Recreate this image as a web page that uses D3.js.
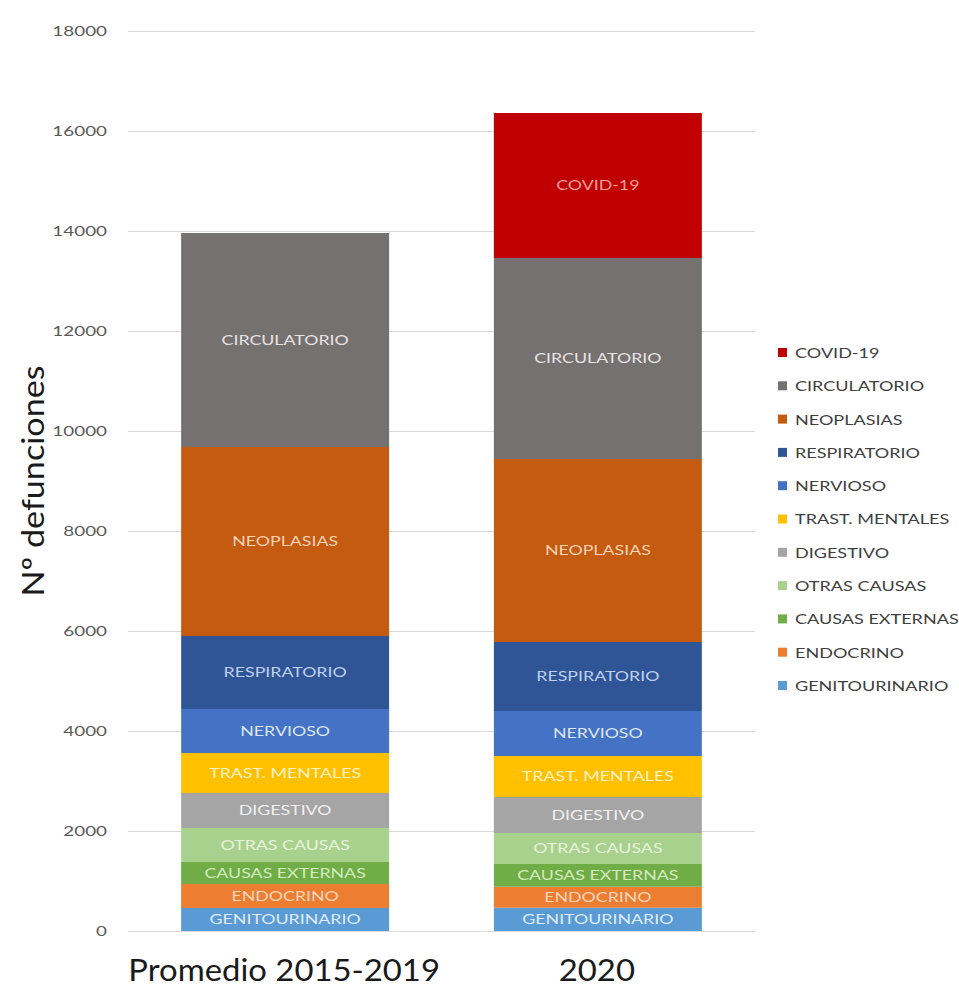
<!DOCTYPE html>
<html>
<head>
<meta charset="utf-8">
<script src="https://cdn.jsdelivr.net/npm/d3@7"></script>
<style>
  html, body { margin: 0; padding: 0; background: #ffffff; }
  svg { display: block; }
</style>
</head>
<body>
<svg id="chart" width="959" height="992"></svg>
<script>
// Categories on the x axis
const categories = ["Promedio 2015-2019", "2020"];

// Causes of death, stacked from the bottom of each bar upwards
const causes = [
  "GENITOURINARIO", "ENDOCRINO", "CAUSAS EXTERNAS", "OTRAS CAUSAS",
  "DIGESTIVO", "TRAST. MENTALES", "NERVIOSO", "RESPIRATORIO",
  "NEOPLASIAS", "CIRCULATORIO", "COVID-19"
];

// Deaths per cause (same order as causes)
const promedio2015_2019 = [460, 480, 440, 680, 700, 800, 880, 1460, 3780, 4280, 0];
const year2020          = [465, 420, 455, 620, 720, 820, 900, 1380, 3660, 4020, 2900];

// Y axis ticks
const yTicks = [0, 2000, 4000, 6000, 8000, 10000, 12000, 14000, 16000, 18000];

// Segment fills and label tints
const fillColors = {
  "COVID-19": "#C00000",
  "CIRCULATORIO": "#767171",
  "NEOPLASIAS": "#C55A11",
  "RESPIRATORIO": "#2F5597",
  "NERVIOSO": "#4472C4",
  "TRAST. MENTALES": "#FFC000",
  "DIGESTIVO": "#A5A5A5",
  "OTRAS CAUSAS": "#A9D18E",
  "CAUSAS EXTERNAS": "#70AD47",
  "ENDOCRINO": "#ED7D31",
  "GENITOURINARIO": "#5B9BD5"
};
const labelColors = {
  "COVID-19": "#FF9F9F",
  "CIRCULATORIO": "#E6E3E3",
  "NEOPLASIAS": "#FBD2B3",
  "RESPIRATORIO": "#BFD0EE",
  "NERVIOSO": "#DCE6F6",
  "TRAST. MENTALES": "#FFF2C8",
  "DIGESTIVO": "#F0F0F0",
  "OTRAS CAUSAS": "#E6F2DC",
  "CAUSAS EXTERNAS": "#D3EBBF",
  "ENDOCRINO": "#FBD7BC",
  "GENITOURINARIO": "#DDEBF8"
};

const seriesByCategory = [promedio2015_2019, year2020];
const rows = categories.map((c, i) => {
  const r = { category: c };
  causes.forEach((k, j) => { r[k] = seriesByCategory[i][j]; });
  return r;
});

const svg = d3.select("#chart");
const font = "Lato, 'Open Sans', sans-serif";

const y = d3.scaleLinear().domain([0, 18000]).range([931, 31]);
const x = d3.scaleBand().domain(categories).range([128, 755])
  .paddingInner(0.335).paddingOuter(0.17);

// Horizontal gridlines
svg.append("g")
  .selectAll("line")
  .data(yTicks)
  .join("line")
  .attr("x1", 128).attr("x2", 755)
  .attr("y1", d => Math.round(y(d)) + 0.5)
  .attr("y2", d => Math.round(y(d)) + 0.5)
  .attr("stroke", "#D9D9D9")
  .attr("stroke-width", 1);

// Y axis tick labels (text drawn slightly widened)
const yAxis = d3.axisLeft(y).tickValues(yTicks).tickSize(0).tickPadding(0)
  .tickFormat(d3.format("d"));
const yg = svg.append("g").attr("transform", "translate(107,0)").call(yAxis);
yg.select(".domain").remove();
yg.selectAll("text")
  .attr("font-family", font)
  .attr("font-size", 13)
  .attr("fill", "#595959")
  .attr("transform", "scale(1.45,1)");

// Stacked bars
const stacked = d3.stack().keys(causes)(rows);
const layers = svg.append("g")
  .selectAll("g")
  .data(stacked)
  .join("g")
  .attr("fill", d => fillColors[d.key]);

layers.selectAll("rect")
  .data(d => d.filter(s => s[1] - s[0] > 0))
  .join("rect")
  .attr("x", d => x(d.data.category))
  .attr("width", x.bandwidth())
  .attr("y", d => y(d[1]))
  .attr("height", d => y(d[0]) - y(d[1]));

// Labels inside each segment
const labelGroups = svg.append("g")
  .selectAll("g")
  .data(stacked)
  .join("g")
  .attr("fill", d => labelColors[d.key]);

labelGroups.selectAll("text")
  .data(d => d.filter(s => s[1] - s[0] > 0).map(s => ({ s, key: d.key })))
  .join("text")
  .attr("transform", d => {
    const cx = x(d.s.data.category) + x.bandwidth() / 2;
    const cy = (y(d.s[0]) + y(d.s[1])) / 2;
    return `translate(${cx},${cy}) scale(1.27,1)`;
  })
  .attr("dy", "0.35em")
  .attr("text-anchor", "middle")
  .attr("font-family", font)
  .attr("font-size", 14)
  .text(d => d.key);

// Category labels under the bars
svg.append("g")
  .selectAll("text")
  .data(categories)
  .join("text")
  .attr("transform", d => `translate(${x(d) + x.bandwidth() / 2 - 1},981) scale(1.06,1)`)
  .attr("text-anchor", "middle")
  .attr("font-family", font)
  .attr("font-size", 31)
  .attr("fill", "#1a1a1a")
  .text(d => d);

// Y axis title
svg.append("text")
  .attr("transform", "translate(44,481) rotate(-90) scale(1.1,1)")
  .attr("text-anchor", "middle")
  .attr("font-family", font)
  .attr("font-size", 31)
  .attr("fill", "#1a1a1a")
  .text("Nº defunciones");

// Legend, listed from the top of the stack down
const legendItems = causes.slice().reverse();
const legend = svg.append("g")
  .selectAll("g")
  .data(legendItems)
  .join("g")
  .attr("transform", (d, i) => `translate(778, ${353 + i * 33.3})`);

legend.append("rect")
  .attr("x", 0).attr("y", -5)
  .attr("width", 9).attr("height", 9)
  .attr("fill", d => fillColors[d]);

legend.append("text")
  .attr("transform", "translate(17,0) scale(1.29,1)")
  .attr("dy", "0.35em")
  .attr("font-family", font)
  .attr("font-size", 14)
  .attr("fill", "#404040")
  .text(d => d);
</script>
</body>
</html>
